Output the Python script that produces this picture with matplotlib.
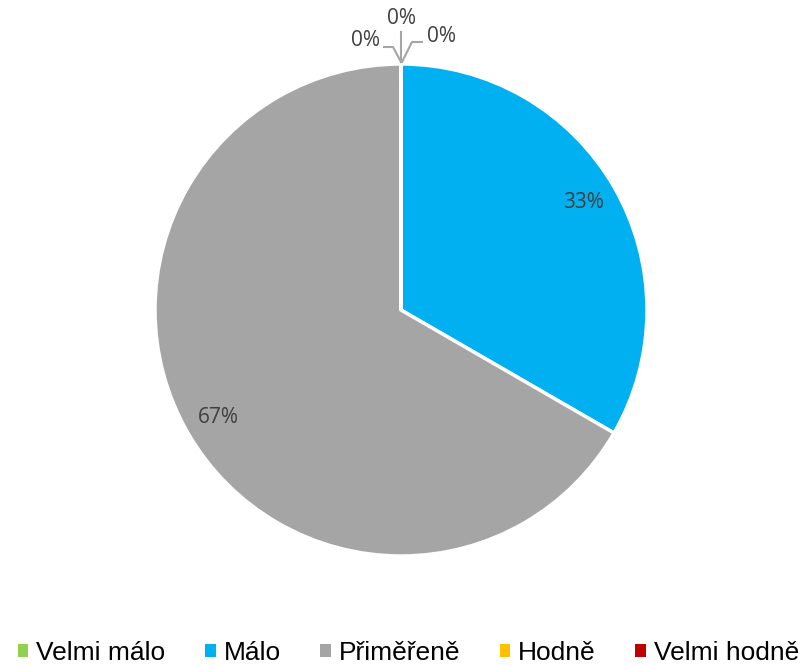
#!/usr/bin/env python3
# Pie chart: share of answers per category (Czech survey labels).
import matplotlib.pyplot as plt
from matplotlib.patches import Patch
from matplotlib.lines import Line2D

categories = ["Velmi málo", "Málo", "Přiměřeně", "Hodně", "Velmi hodně"]
counts = [0, 1, 2, 0, 0]
colors = ["#92D050", "#00B0F0", "#A5A5A5", "#FFC000", "#C00000"]

W, H = 809, 666
cx, cy, r = 401, 310, 246

fig = plt.figure(figsize=(W / 100, H / 100), dpi=100)
ax = fig.add_axes([(cx - r) / W, (H - cy - r) / H, 2 * r / W, 2 * r / H])

wedges, _ = ax.pie(counts, colors=colors, startangle=90, counterclock=False,
                   radius=1, wedgeprops=dict(edgecolor="white", linewidth=2.5))
ax.set_aspect("auto")
ax.set_xlim(-1, 1); ax.set_ylim(-1, 1)
ax.axis("off")

total = sum(counts)
pct = [f"{round(100 * c / total)}%" for c in counts]
lab_font = dict(family=["Open Sans", "DejaVu Sans"], fontsize=15, color="#404040",
                ha="center", va="center")

# labels inside the non-zero slices
ax.text(0.74, 0.435, pct[1], **lab_font)
ax.text(-0.744, -0.435, pct[2], **lab_font)

# zero slices: labels above the top with leader lines
def px(x, y):
    return ((x - cx) / r, (cy - y) / r)

lc = "#A5A5A5"
for pts in ([(384, 47), (393, 47), (401, 62)],
            [(401, 32), (401, 62)],
            [(422, 42), (412, 42), (402, 62)]):
    xy = [px(*p) for p in pts]
    ax.add_line(Line2D([p[0] for p in xy], [p[1] for p in xy], color=lc, lw=1.5,
                       clip_on=False))
ax.text(*px(365, 41), pct[0], **lab_font)
ax.text(*px(402, 18), pct[3], **lab_font)
ax.text(*px(441, 36), pct[4], **lab_font)

handles = [Patch(facecolor=c, edgecolor="none") for c in colors]
fig.legend(handles, categories, loc="center", bbox_to_anchor=(0.505, 1 - 653 / H),
           ncol=5, frameon=False, handlelength=0.4, handleheight=0.4,
           handletextpad=0.3, columnspacing=1.5,
           prop=dict(family="Liberation Sans", size=19))

fig.savefig("out.png", dpi=100)
